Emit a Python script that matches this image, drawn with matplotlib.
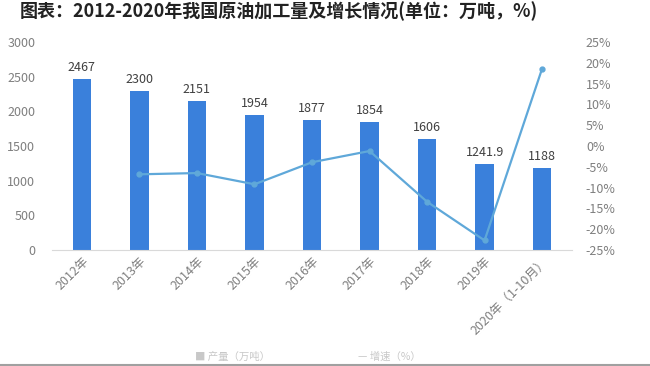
import matplotlib
matplotlib.use('Agg')
from matplotlib import pyplot as plt
import numpy as np

plt.rcParams['font.family'] = ['Noto Sans CJK SC', 'DejaVu Sans']

# data
years = ['2012年', '2013年', '2014年', '2015年', '2016年', '2017年',
         '2018年', '2019年', '2020年（1-10月）']
output = [2467, 2300, 2151, 1954, 1877, 1854, 1606, 1241.9, 1188]
output_labels = ['2467', '2300', '2151', '1954', '1877', '1854', '1606', '1241.9', '1188']
growth = [None, -6.8, -6.5, -9.2, -3.9, -1.2, -13.4, -22.7, 18.6]

bar_color = '#3a80db'
line_color = '#5fa8d9'
grey = '#7f7f7f'

fig = plt.figure(figsize=(6.5, 3.66), dpi=100)
ax = fig.add_axes([0.08, 0.317, 0.80, 0.568])
x = np.arange(len(years))

ax.bar(x, output, width=0.32, color=bar_color, zorder=2)
for xi, v, lab in zip(x, output, output_labels):
    ax.text(xi, v + 70, lab, ha='center', va='bottom', fontsize=9, color='#404040')

ax.set_ylim(0, 3000)
ax.set_yticks(range(0, 3001, 500))
ax.set_xlim(-0.52, 8.52)
ax.set_xticks(x)
ax.set_xticklabels(years, rotation=45, ha='right', rotation_mode='anchor',
                   fontsize=9, color=grey)
for s in ['top', 'right', 'left']:
    ax.spines[s].set_visible(False)
ax.spines['bottom'].set_color('#d9d9d9')
ax.tick_params(axis='both', length=0, labelsize=9, labelcolor=grey)
ax.tick_params(axis='y', pad=12)

ax2 = ax.twinx()
gx = [xi for xi, g in zip(x, growth) if g is not None]
gy = [g for g in growth if g is not None]
ax2.plot(gx, gy, color=line_color, lw=1.6, marker='o', ms=3.5, zorder=3)
ax2.set_ylim(-25, 25)
ax2.set_yticks(range(-25, 26, 5))
ax2.set_yticklabels([f'{t}%' for t in range(-25, 26, 5)])
for s in ax2.spines.values():
    s.set_visible(False)
ax2.tick_params(axis='y', length=0, labelsize=9, labelcolor=grey, pad=10)

# title
fig.text(0.03, 0.997, '图表：2012-2020年我国原油加工量及增长情况(单位：万吨，%)',
         fontsize=13, fontweight='bold', color='#222222', va='top', ha='left')

# legend at the very bottom
fig.text(0.30, 0.012, '■ 产量（万吨）', fontsize=7.5, color='#c8c8c8', va='bottom')
fig.text(0.55, 0.012, '— 增速（%）', fontsize=7.5, color='#c8c8c8', va='bottom')
fig.add_artist(plt.Line2D([0, 1], [0.003, 0.003], color='#a0a0a0', lw=1.5))

fig.savefig('out.png', dpi=100)
